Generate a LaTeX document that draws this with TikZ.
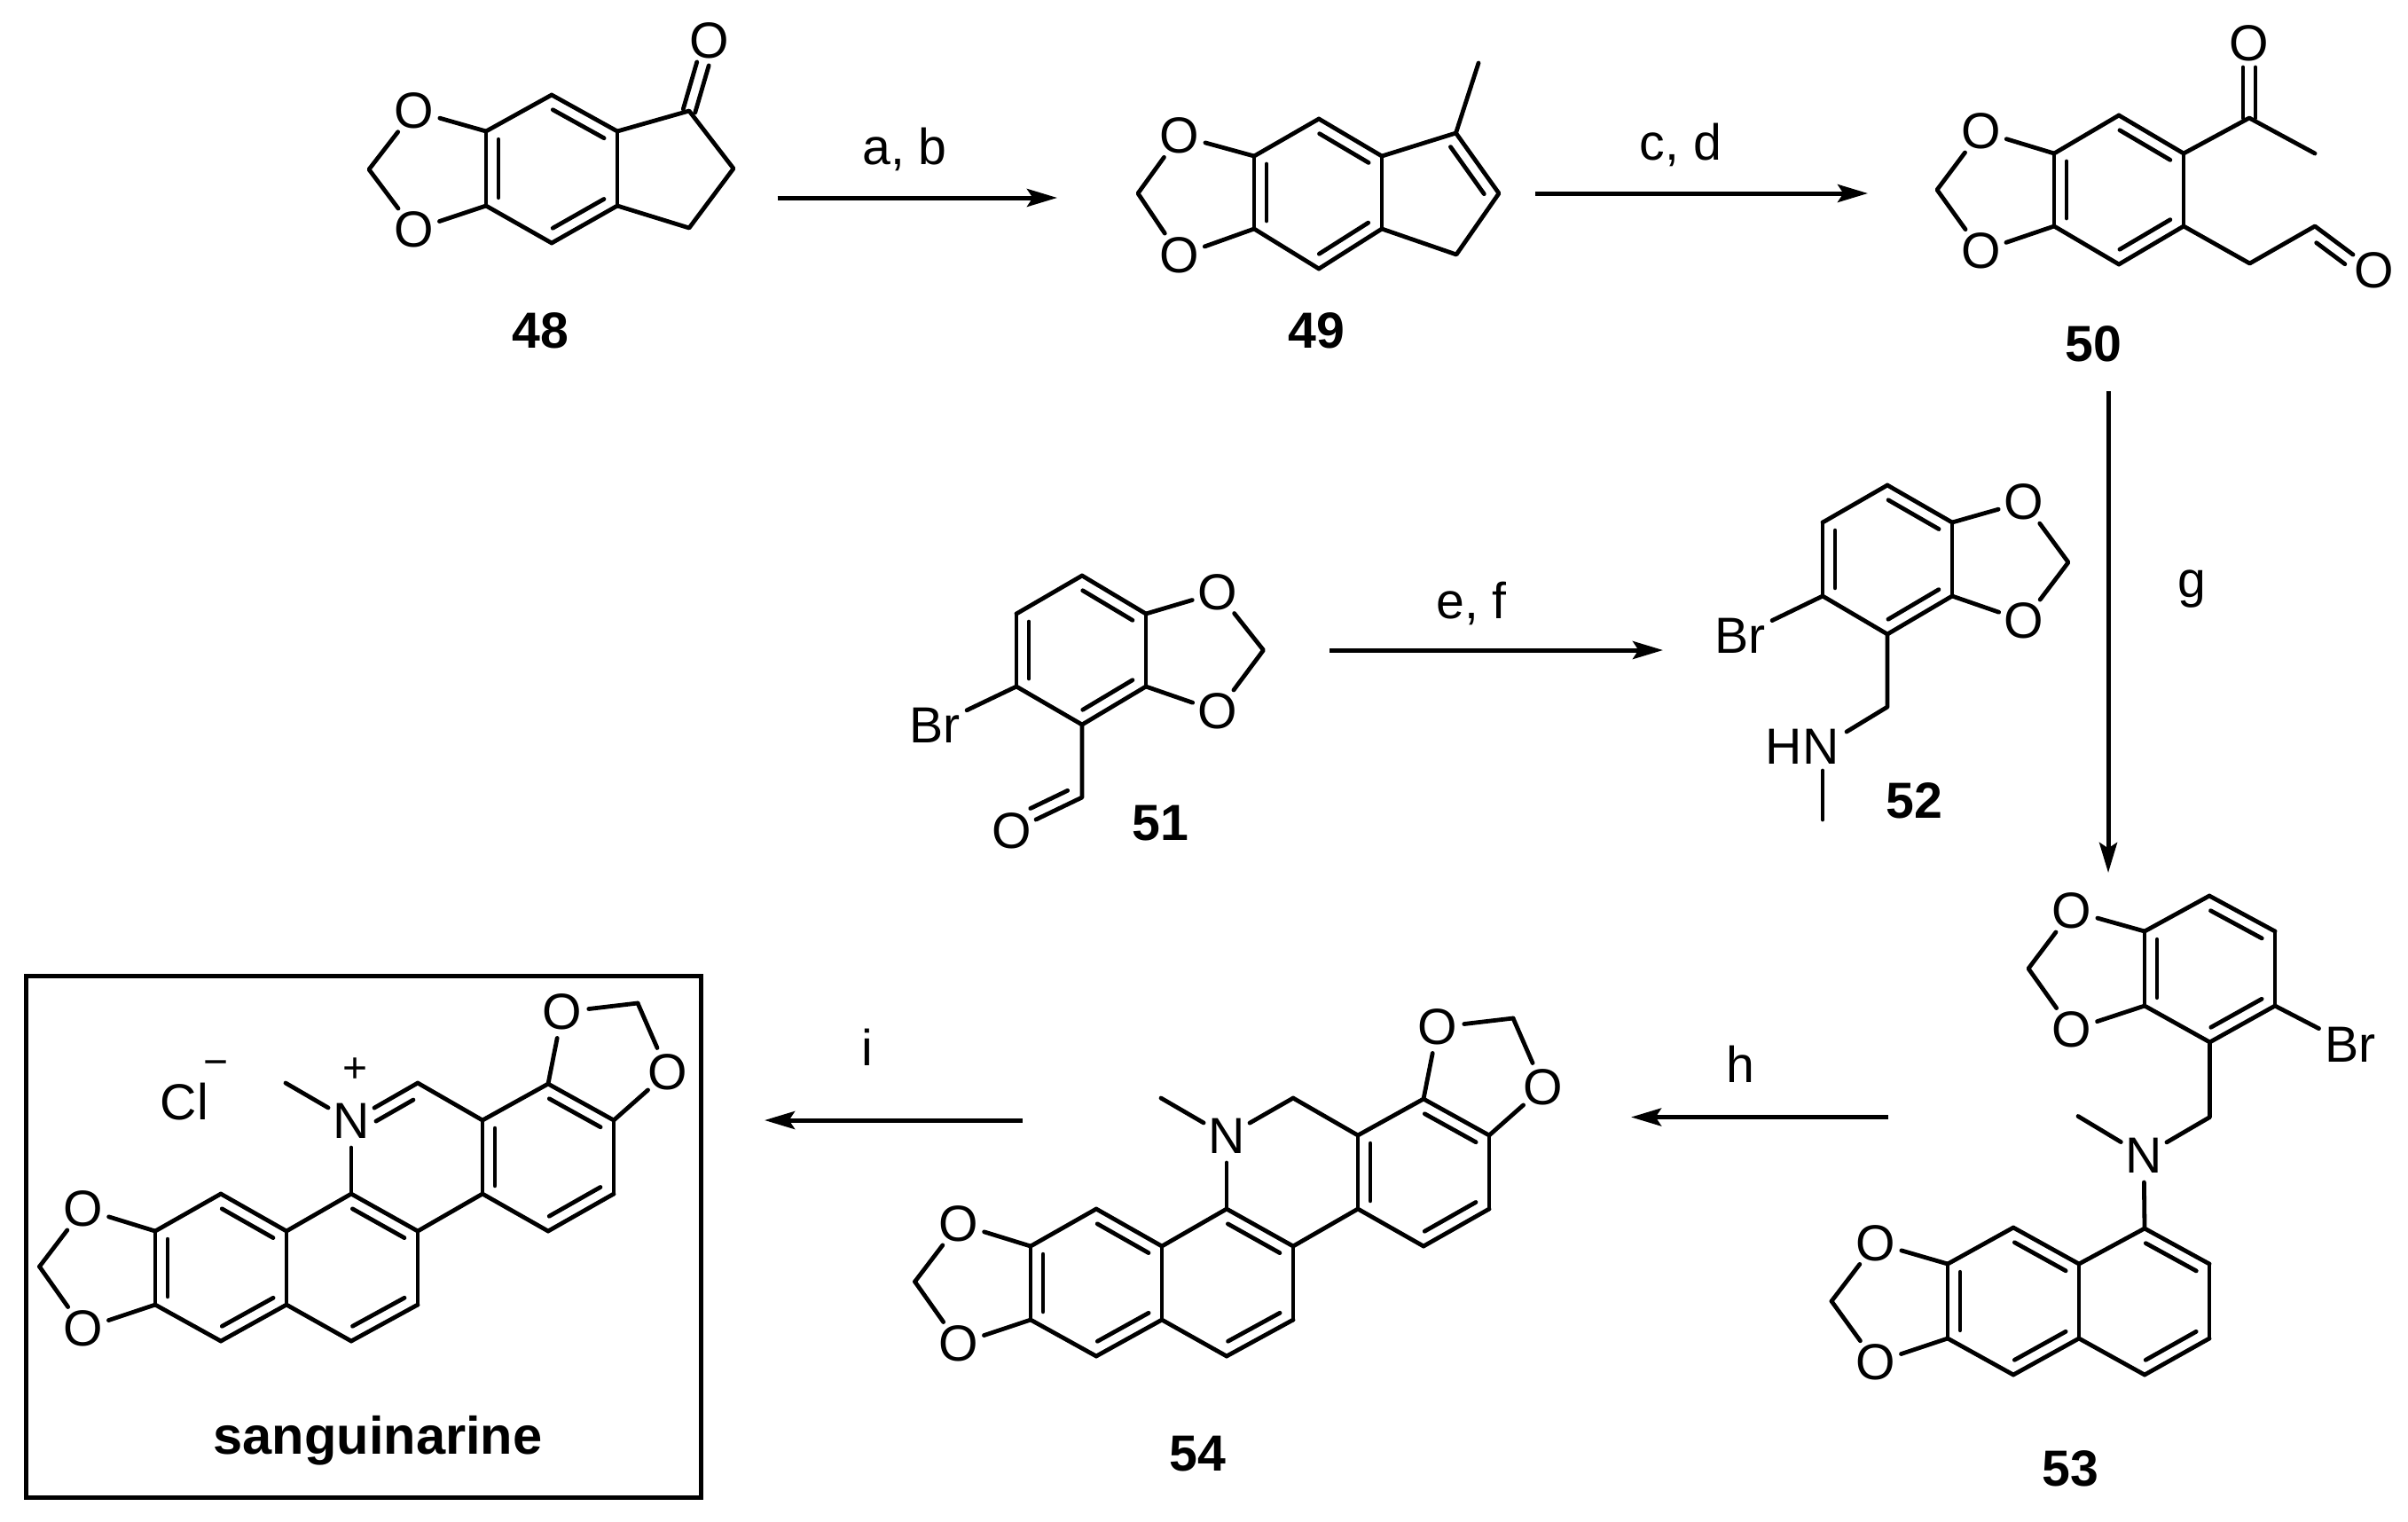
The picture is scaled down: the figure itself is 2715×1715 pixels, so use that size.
\documentclass[tikz,border=0pt]{standalone}
\usepackage{fontspec}
\setmainfont{Liberation Sans}
\usetikzlibrary{calc,arrows.meta}
\newcommand\fsz{\fontsize{14.3}{17}\selectfont}
\tikzset{
  bond/.style={line width=1.2pt,line cap=round,line join=round,black},
  rxn/.style={line width=1.25pt,-{Stealth[length=8.5pt,width=5pt,inset=1.6pt]},black},
  atom/.style={circle,inner sep=0pt,outer sep=0pt,minimum size=15pt,font=\fsz},
  bigatom/.style={circle,inner sep=0pt,outer sep=0pt,minimum size=20pt,font=\fsz},
  numlab/.style={inner sep=0pt,font=\fsz\bfseries},
  reag/.style={inner sep=0pt,font=\fsz},
  chg/.style={inner sep=0pt,font=\fontsize{12}{14}\selectfont},
}
% inner line of a double bond, on the left of the way from #1 to #2
\newcommand\dbl[2]{\draw[bond] ($(#1)!.11!(#2)!3.5pt!90:(#2)$) -- ($(#2)!.11!(#1)!3.5pt!-90:(#1)$);}
% the same with own fractions (#3,#4) and side angle (#5)
\newcommand\dblx[5]{\draw[bond] ($(#1)!#3!(#2)!3.5pt!#5:(#2)$) -- ($(#1)!#4!(#2)!3.5pt!#5:(#2)$);}
% two lines either side of the axis of a C=O bond
\newcommand\dsym[2]{\draw[bond,shorten >=6.75pt] ($(#1)!1.75pt!90:(#2)$) -- ($(#2)!1.75pt!-90:(#1)$);
  \draw[bond,shorten >=6.75pt] ($(#1)!1.75pt!-90:(#2)$) -- ($(#2)!1.75pt!90:(#1)$);}
% benzene ring with vertices a..f (counter-clockwise from the top)
\newcommand\ringb[1]{%
  \foreach \p/\q in {a/b,b/c,c/d,d/e,e/f,f/a} \draw[bond] (#1\p) -- (#1\q);
  \dbl{#1b}{#1c}\dbl{#1d}{#1e}\dbl{#1f}{#1a}}
% tetracycle of 54 and of sanguinarine, placed by the enclosing scope
\newcommand\tetra[1]{%
  \foreach \n/\x/\y in {x/471/1221,c1/544/1263,c2/618/1222,c3/692/1263,c4/692/1346,c5/618/1388,c6/544/1346,
    c7/471/1388,c8/471/1471,c9/396/1512,c10/323/1471,c11/323/1388,c12/396/1346,c13/249/1346,c14/175/1388,
    c15/175/1471,c16/249/1512,me/322/1221,h1/719/1131,h2/44.5/1428}
    \coordinate (#1\n) at (\x,\y);
  \node[atom] (#1n) at (396,1264) {N};
  \node[atom] (#1o1) at (634,1141) {O};
  \node[atom] (#1o2) at (753,1209) {O};
  \node[atom] (#1o3) at (94,1363) {O};
  \node[atom] (#1o4) at (94,1498) {O};
  \foreach \p/\q in {me/n,x/c1,c1/c2,c2/c3,c3/c4,c4/c5,c5/c6,c6/c1,c6/c7,c7/c8,c8/c9,c9/c10,c10/c11,c11/c12,
    c12/c7,c12/n,c11/c13,c13/c14,c14/c15,c15/c16,c16/c10,c2/o1,o1/h1,h1/o2,o2/c3,c14/o3,o3/h2,h2/o4,o4/c15}
    \draw[bond] (#1\p) -- (#1\q);
  \dbl{#1c1}{#1c6}\dbl{#1c5}{#1c4}\dbl{#1c3}{#1c2}\dbl{#1c9}{#1c8}\dbl{#1c7}{#1c12}
  \dbl{#1c14}{#1c15}\dbl{#1c16}{#1c10}\dbl{#1c11}{#1c13}}
\begin{document}
\begin{tikzpicture}[x=0.25pt,y=-0.25pt]
\useasboundingbox (0,0) rectangle (2715,1715);
% ---------- 48
\foreach \n/\x/\y in {a/622/107,b/548/148,c/548/232,d/622/274,e/696/232,f/696/148,k/777/125,m/827/190,p/777/257,h/416/191}
  \coordinate (m48\n) at (\x,\y);
\node[atom] (m48O) at (800,46) {O};
\node[atom] (m48o1) at (467,125) {O};
\node[atom] (m48o2) at (467,259) {O};
\ringb{m48}
\draw[bond] (m48f) -- (m48k) -- (m48m) -- (m48p) -- (m48e);
\dsym{m48k}{m48O}
\draw[bond] (m48b) -- (m48o1) -- (m48h) -- (m48o2) -- (m48c);
\node[numlab] (l48) at (609,373) {48};
% ---------- 49
\foreach \n/\x/\y in {a/1487/134,b/1414/176,c/1414/258,d/1487/303,e/1558/258,f/1558/176,k/1641.5/150,me/1667/71,m/1690/218,p/1642/287,h/1283/218}
  \coordinate (m49\n) at (\x,\y);
\node[atom] (m49o1) at (1330,153) {O};
\node[atom] (m49o2) at (1330,288) {O};
\ringb{m49}
\draw[bond] (m49f) -- (m49k) -- (m49m) -- (m49p) -- (m49e);
\draw[bond] (m49k) -- (m49me);
\dbl{m49m}{m49k}
\draw[bond] (m49b) -- (m49o1) -- (m49h) -- (m49o2) -- (m49c);
\node[numlab] (l49) at (1484,373) {49};
% ---------- 50
\foreach \n/\x/\y in {a/2389/130,b/2316/173,c/2316/255,d/2389/298,e/2462/255,f/2462/173,k/2536/133,me/2610/173,m/2536.5/297,p/2610/255,h/2184/214}
  \coordinate (m50\n) at (\x,\y);
\node[atom] (m50O) at (2536,49) {O};
\node[atom] (m50Q) at (2677,305) {O};
\node[atom] (m50o1) at (2233.5,148) {O};
\node[atom] (m50o2) at (2233.5,283) {O};
\ringb{m50}
\draw[bond] (m50f) -- (m50k) -- (m50me);
\dsym{m50k}{m50O}
\draw[bond] (m50e) -- (m50m) -- (m50p) -- (m50Q);
\dblx{m50p}{m50Q}{.15}{.63}{-90}
\draw[bond] (m50b) -- (m50o1) -- (m50h) -- (m50o2) -- (m50c);
\node[numlab] (l50) at (2360,388) {50};
% ---------- 51
\foreach \n/\x/\y in {a/1220/649,b/1146/692,c/1146/774,d/1220/817,e/1292/774,f/1292/692,k/1220/899,h/1424.5/733}
  \coordinate (m51\n) at (\x,\y);
\node[atom] (m51o1) at (1373,668) {O};
\node[atom] (m51o2) at (1373,802) {O};
\node[atom] (m51O) at (1141,937) {O};
\node[bigatom] (m51Br) at (1054,818) {Br};
\ringb{m51}
\draw[bond] (m51c) -- (m51Br);
\draw[bond] (m51d) -- (m51k) -- (m51O);
\dblx{m51k}{m51O}{.13}{.66}{-90}
\draw[bond] (m51f) -- (m51o1) -- (m51h) -- (m51o2) -- (m51e);
\node[numlab] (l51) at (1308,928) {51};
% ---------- 52
\foreach \n/\x/\y in {a/2128/547,b/2055/589,c/2055/672,d/2128/715,e/2201/672,f/2201/589,k/2128/797,h/2332/634,ns/2082/825,ms/2055/869,me/2055/924}
  \coordinate (m52\n) at (\x,\y);
\node[atom] (m52o1) at (2282,566) {O};
\node[atom] (m52o2) at (2282,700) {O};
\node[bigatom] (m52Br) at (1962,717) {Br};
\node[inner sep=0pt,font=\fsz] (m52N) at (2032,842) {HN};
\ringb{m52}
\draw[bond] (m52c) -- (m52Br);
\draw[bond] (m52d) -- (m52k) -- (m52ns);
\draw[bond] (m52ms) -- (m52me);
\draw[bond] (m52f) -- (m52o1) -- (m52h) -- (m52o2) -- (m52e);
\node[numlab] (l52) at (2158,903) {52};
% ---------- 53
\foreach \n/\x/\y in {a/2491/1010,f/2565/1050,e/2565/1134,d/2491.5/1175,c/2418/1134,b/2418/1050,h/2287/1092,k/2491.5/1259.5,me/2343/1258.5,
  p1/2418/1385,p2/2491/1425,p3/2491/1509,p4/2418/1550,p5/2344/1509,p6/2344/1425,p7/2270/1384,p8/2196/1425,p9/2196/1509,p10/2270/1550,g/2065/1467}
  \coordinate (m53\n) at (\x,\y);
\node[atom] (m53o1) at (2336,1027) {O};
\node[atom] (m53o2) at (2336,1161) {O};
\node[atom] (m53o3) at (2115,1401.5) {O};
\node[atom] (m53o4) at (2115,1536) {O};
\node[atom] (m53n) at (2417,1303) {N};
\node[bigatom] (m53Br) at (2650,1178) {Br};
\ringb{m53}
\draw[bond] (m53e) -- (m53Br);
\draw[bond] (m53d) -- (m53k) -- (m53n) -- (m53p1);
\draw[bond] (m53me) -- (m53n);
\draw[bond] (m53b) -- (m53o1) -- (m53h) -- (m53o2) -- (m53c);
\foreach \p/\q in {p1/p2,p2/p3,p3/p4,p4/p5,p5/p6,p6/p1,p6/p7,p7/p8,p8/p9,p9/p10,p10/p5,p8/o3,o3/g,g/o4,o4/p9}
  \draw[bond] (m53\p) -- (m53\q);
\dbl{m53p2}{m53p1}\dbl{m53p4}{m53p3}\dbl{m53p8}{m53p9}\dbl{m53p10}{m53p5}\dbl{m53p6}{m53p7}
\node[numlab] (l53) at (2334,1656) {53};
% ---------- 54
\begin{scope}[shift={(987,17)}]
\tetra{m54}
\end{scope}
\draw[bond] (m54n) -- (m54x);
\node[numlab] (l54) at (1350,1639) {54};
% ---------- sanguinarine
\draw[line width=1.25pt] (29,1100) rectangle (790,1688.5);
\tetra{sg}
\draw[bond] (sgn) -- (sgx);
\dblx{sgx}{sgn}{.16}{.72}{90}
\node[atom] (sgCl) at (208,1242) {Cl};
\node[chg] (sgminus) at (244,1205) {−};
\node[chg] (sgplus) at (401,1207) {+};
\node[inner sep=0pt,font=\fontsize{14.9}{17}\selectfont\bfseries] (lsg) at (426,1624) {sanguinarine};
% ---------- arrows and reagents
\foreach \n/\x/\y in {a1s/876.5/223,a1e/1192/223,a2s/1731/218,a2e/2106/218,a3s/1499/733,a3e/1875/733,a4s/2377/441,a4e/2377/984,a5s/2129/1259.5,a5e/1839/1259.5,a6s/1152.6/1263,a6e/862/1263}
  \coordinate (\n) at (\x,\y);
\draw[rxn] (a1s) -- (a1e);
\draw[rxn] (a2s) -- (a2e);
\draw[rxn] (a3s) -- (a3e);
\draw[rxn] (a4s) -- (a4e);
\draw[rxn] (a5s) -- (a5e);
\draw[rxn] (a6s) -- (a6e);
\node[reag] (r1) at (1020,168) {a, b};
\node[reag] (r2) at (1895,163) {c, d};
\node[reag] (r3) at (1659,680) {e, f};
\node[reag] (r4) at (2471,664) {g};
\node[reag] (r5) at (1962,1200) {h};
\node[reag] (r6) at (978,1181) {i};
\end{tikzpicture}
\end{document}
